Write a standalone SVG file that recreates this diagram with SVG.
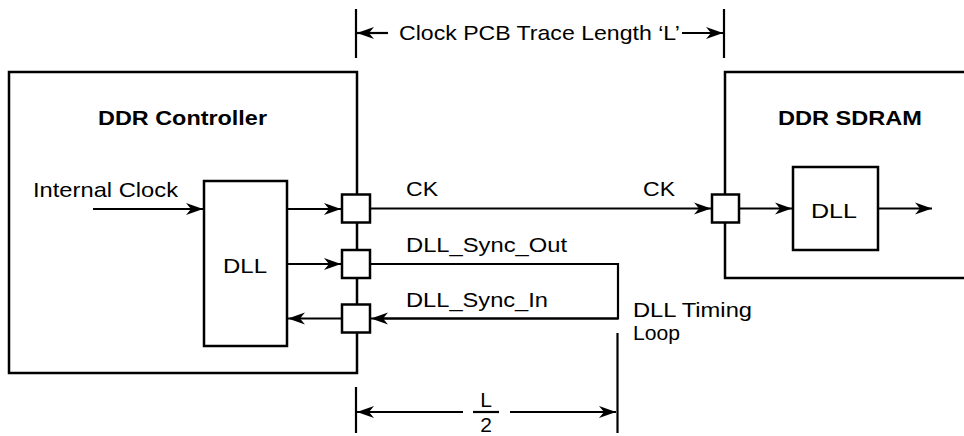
<svg xmlns="http://www.w3.org/2000/svg" width="964" height="436" viewBox="0 0 964 436">
<style>
.t{font-family:"Liberation Sans",Arial,sans-serif;font-size:21px;fill:#000}
.b{font-weight:bold}
.box{fill:none;stroke:#000;stroke-width:2.5}
.pad{fill:#fff;stroke:#000;stroke-width:2.5}
.ln{fill:none;stroke:#000;stroke-width:2.2}
.ar{fill:none;stroke:#000;stroke-width:2.2;marker-end:url(#ah)}
</style>
<defs>
<marker id="ah" markerUnits="userSpaceOnUse" viewBox="-18 -7 19 14" refX="0" refY="0" markerWidth="19" markerHeight="14" orient="auto">
<path d="M0,0 L-17,-6 L-12,0 L-17,6 Z" fill="#000"/>
</marker>
</defs>
<rect width="964" height="436" fill="#fff"/>

<g id="controller">
<rect class="box" x="9" y="72" width="348" height="301"/>
<text class="t b" x="98" y="125" textLength="169" lengthAdjust="spacingAndGlyphs">DDR Controller</text>
<text class="t" x="33" y="197" textLength="145" lengthAdjust="spacingAndGlyphs">Internal Clock</text>
</g>
<g id="ctrl-dll">
<rect class="box" x="204" y="181" width="83" height="165"/>
<text class="t" x="223" y="273" textLength="44" lengthAdjust="spacingAndGlyphs">DLL</text>
</g>
<g id="pad-ck">
<rect class="pad" x="342" y="194.5" width="28" height="28"/>
</g>
<g id="pad-sync-out">
<rect class="pad" x="342" y="250" width="28" height="28"/>
</g>
<g id="pad-sync-in">
<rect class="pad" x="342" y="304.5" width="28" height="28"/>
</g>

<g id="sdram">
<path class="box" d="M966,72 H725 V278 H966"/>
<text class="t b" x="778" y="125" textLength="144" lengthAdjust="spacingAndGlyphs">DDR SDRAM</text>
</g>
<g id="sdram-pad">
<rect class="pad" x="712" y="194.5" width="27" height="28"/>
</g>
<g id="sdram-dll">
<rect class="box" x="793" y="167" width="85" height="83"/>
<text class="t" x="811" y="218" textLength="46" lengthAdjust="spacingAndGlyphs">DLL</text>
</g>

<g id="connectors">
<path class="ar" d="M93,209 H203"/>
<path class="ar" d="M287,209 H341"/>
<path class="ar" d="M287,264 H341"/>
<path class="ar" d="M342,318.5 H288"/>
<path class="ar" d="M370,208.5 H711"/>
<path class="ln" d="M370,264 H618 V318.5 H380"/>
<path class="ar" d="M618,318.5 H371"/>
<path class="ar" d="M739,208.5 H792"/>
<path class="ar" d="M878,208.5 H932"/>
</g>

<g id="labels">
<text class="t" x="406" y="196" textLength="32" lengthAdjust="spacingAndGlyphs">CK</text>
<text class="t" x="643" y="196" textLength="32" lengthAdjust="spacingAndGlyphs">CK</text>
<text class="t" x="406" y="252" textLength="161" lengthAdjust="spacingAndGlyphs">DLL_Sync_Out</text>
<text class="t" x="406" y="307" textLength="142" lengthAdjust="spacingAndGlyphs">DLL_Sync_In</text>
<text class="t" x="633" y="317" textLength="119" lengthAdjust="spacingAndGlyphs">DLL Timing</text>
<text class="t" x="633" y="340" textLength="47" lengthAdjust="spacingAndGlyphs">Loop</text>
</g>

<g id="dimension-top">
<path class="ln" d="M356,9 V58 M724,9 V58"/>
<path class="ar" d="M388,33 H357"/>
<path class="ar" d="M682,33 H723"/>
<text class="t" x="399" y="40" textLength="281" lengthAdjust="spacingAndGlyphs">Clock PCB Trace Length ‘L’</text>
</g>

<g id="dimension-bottom">
<path class="ln" d="M356,387 V433 M617.5,333 V433"/>
<path class="ar" d="M463,412 H357"/>
<path class="ar" d="M510,412 H616"/>
<path class="ln" d="M473,412 H499"/>
<text class="t" x="486" y="407" text-anchor="middle">L</text>
<text class="t" x="486" y="432" text-anchor="middle">2</text>
</g>
</svg>
